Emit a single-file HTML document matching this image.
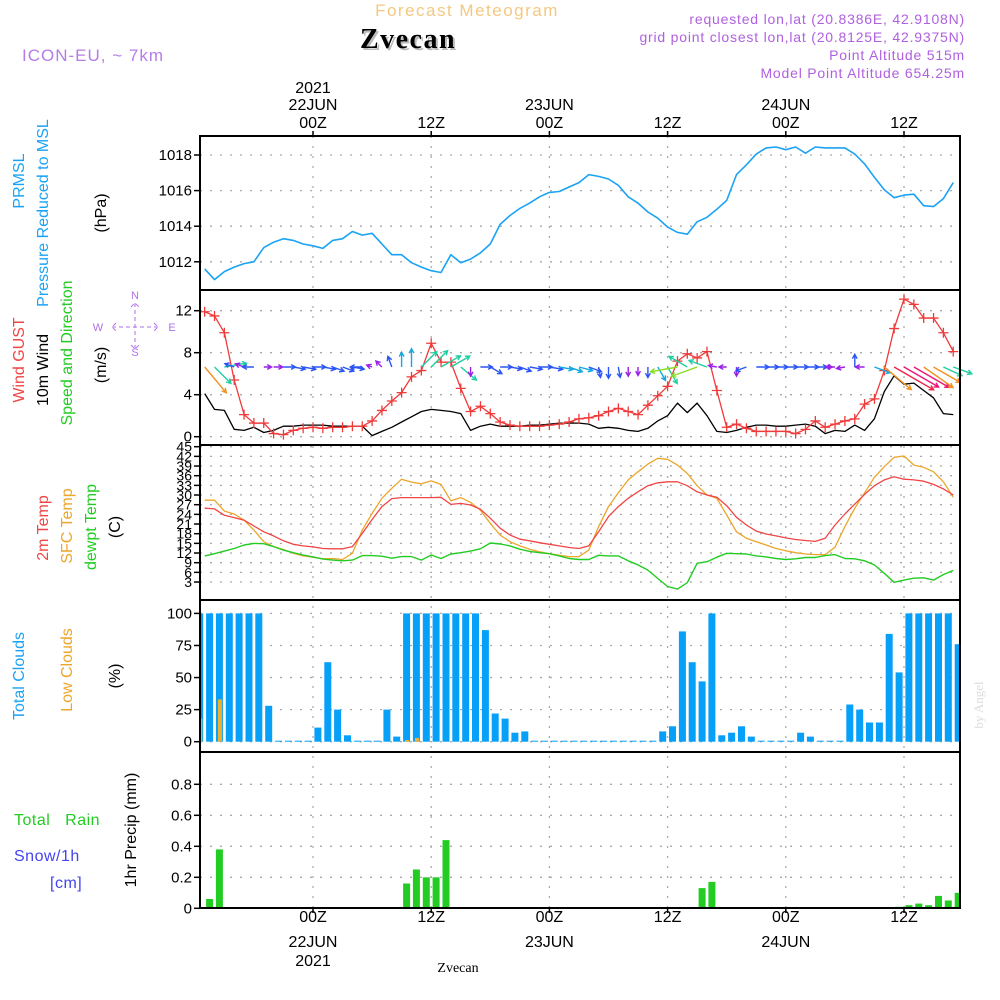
<!DOCTYPE html>
<html><head><meta charset="utf-8"><title>Zvecan meteogram</title>
<style>
html,body{margin:0;padding:0;background:#fff;}
svg{display:block;font-family:"Liberation Sans",sans-serif;}
</style></head>
<body>
<svg id="chart" width="1000" height="1000" viewBox="0 0 1000 1000" xmlns="http://www.w3.org/2000/svg">
<rect x="0" y="0" width="1000" height="1000" fill="#fff"/>
<text x="467" y="16" text-anchor="middle" font-size="17" fill="#f4c880" letter-spacing="1.5">Forecast Meteogram</text>
<text x="410" y="50" text-anchor="middle" font-size="28" font-weight="bold" font-family="Liberation Serif, serif" fill="#bbb" letter-spacing="1.5">Zvecan</text>
<text x="408" y="48" text-anchor="middle" font-size="28" font-weight="bold" font-family="Liberation Serif, serif" fill="#000" letter-spacing="1.5">Zvecan</text>
<text x="22" y="61" font-size="17" fill="#b57ce8" letter-spacing="1">ICON-EU, ~ 7km</text>
<g font-size="14" fill="#b060e0" text-anchor="end" letter-spacing="0.8">
<text x="965" y="24">requested lon,lat (20.8386E, 42.9108N)</text>
<text x="965" y="42">grid point closest lon,lat (20.8125E, 42.9375N)</text>
<text x="965" y="60">Point Altitude 515m</text>
<text x="965" y="78">Model Point Altitude 654.25m</text>
</g>
<g font-size="13" font-family="Liberation Serif, serif" fill="#ddd"><text transform="translate(983,705) rotate(-90)" text-anchor="middle">by Angel</text></g>
<g id="labels" font-size="15"></g>
<g id="grid"></g>
<g id="marks"></g>
<g id="frames"></g>
</svg>
<script>
// ---- data (hourly, h = hours from 22JUN 00Z) ----
const hoursStart = -11;
const pressure = [1011.6,1011.0,1011.45,1011.7,1011.9,1012.0,1012.8,1013.1,1013.3,1013.2,1013.0,1012.9,1012.75,1013.2,1013.3,1013.7,1013.5,1013.6,1013.0,1012.4,1012.4,1011.95,1011.7,1011.5,1011.4,1012.4,1011.95,1012.15,1012.5,1013.0,1014.1,1014.6,1015.0,1015.3,1015.65,1015.9,1015.95,1016.2,1016.45,1016.9,1016.8,1016.65,1016.3,1015.65,1015.3,1014.8,1014.45,1013.95,1013.65,1013.55,1014.25,1014.5,1014.95,1015.45,1016.9,1017.45,1018.05,1018.4,1018.45,1018.3,1018.45,1018.1,1018.45,1018.4,1018.4,1018.4,1018.05,1017.5,1016.75,1016.05,1015.6,1015.75,1015.8,1015.15,1015.1,1015.55,1016.45];
const windGust = [11.9,11.5,9.9,5.4,2.1,1.3,1.3,0.3,0.2,0.6,0.8,0.9,0.8,0.9,0.9,1.0,1.0,1.5,2.5,3.4,4.2,5.7,6.3,8.9,7.1,7.1,4.6,2.4,2.9,2.2,1.4,1.1,1.0,1.0,1.0,1.1,1.2,1.4,1.7,1.8,2.0,2.4,2.7,2.4,2.1,3.0,3.9,4.8,7.2,7.9,7.5,8.1,4.4,0.9,1.2,0.8,0.5,0.5,0.5,0.5,0.3,0.7,1.5,0.9,1.2,1.5,1.7,3.1,3.6,6.3,10.3,13.1,12.6,11.3,11.3,9.9,8.1];
const wind10m = [4.1,2.6,2.5,0.7,0.6,0.9,0.4,0.6,1.0,1.0,1.1,1.1,1.1,1.0,1.0,1.0,1.0,0.1,0.5,0.9,1.4,1.9,2.4,2.6,2.5,2.4,2.2,0.6,1.0,1.2,1.0,1.0,1.0,1.1,1.1,1.2,1.3,1.3,1.3,1.2,0.8,0.9,0.8,0.6,0.5,0.8,1.5,2.0,3.2,2.3,3.2,2.0,0.5,0.4,0.6,0.9,1.1,1.1,1.0,1.0,1.1,1.2,1.0,0.3,0.6,0.5,1.1,0.6,1.7,4.3,5.8,5.0,5.1,4.4,3.7,2.2,2.1];
const windDir = [50,45,-10,200,200,180,0,0,0,10,10,0,10,20,20,10,180,200,225,250,270,270,-45,-45,-30,-30,40,90,0,30,0,10,20,10,0,10,10,20,15,20,80,90,80,90,90,90,60,60,170,210,160,200,190,180,90,160,0,0,0,0,0,0,0,0,180,170,-90,180,20,40,30,30,30,35,30,25,20];
const temp2m = [25.9,25.7,23.7,23.0,22.2,20.4,18.6,17.3,15.8,14.7,14.2,13.9,13.4,13.3,13.3,14.0,18.1,22.4,26.4,28.9,29.2,29.2,29.2,29.2,29.3,27.1,27.4,26.9,25.6,22.8,19.7,17.6,16.3,15.8,15.2,14.7,14.2,13.7,13.4,14.2,18.6,23.3,26.4,29.0,31.0,32.9,33.8,34.1,34.1,32.9,31.0,30.0,29.3,26.7,23.1,20.7,18.8,17.9,17.3,16.7,16.2,15.9,15.6,16.6,20.7,24.1,27.2,30.2,32.9,34.7,35.7,34.9,34.7,34.3,33.3,31.9,30.0];
const tempSfc = [28.4,28.4,25.0,24.1,22.2,19.1,15.5,14.0,13.1,11.9,11.1,10.7,10.2,10.3,10.0,11.9,19.1,24.3,29.0,32.1,34.9,34.0,33.5,34.4,33.3,28.2,29.2,27.7,25.3,21.2,17.6,15.5,14.2,13.2,12.4,11.8,11.3,10.9,10.9,12.9,20.2,26.4,30.7,34.7,37.2,39.6,41.4,41.1,39.3,36.7,32.9,30.0,29.0,23.8,18.6,16.6,15.5,14.5,13.4,12.7,12.1,11.7,11.5,11.5,13.8,20.2,25.9,30.7,35.5,38.8,41.7,42.1,39.3,38.6,37.2,34.1,29.3];
const dewpt = [11.1,11.8,12.6,13.4,14.5,15.0,14.9,14.0,12.9,12.1,11.4,10.8,10.1,9.8,9.6,9.8,11.2,11.2,11.0,10.4,10.9,10.9,9.8,11.4,10.3,11.7,12.1,12.6,13.3,15.1,14.8,14.2,13.2,12.5,12.1,11.8,11.1,10.3,10.0,10.0,11.3,11.1,11.1,9.6,8.3,6.7,4.1,1.6,0.8,2.8,8.8,9.3,10.7,11.9,11.8,11.7,11.1,10.8,10.3,10.0,10.2,10.6,10.6,11.2,11.5,10.3,10.2,9.6,8.3,5.7,2.9,3.6,4.2,4.3,3.6,5.3,6.6];
// bars: hours -12 .. 65 (bar at h+0.5)
const barStart = -12;
const totalClouds = [100,100,100,100,100,100,100,28,0,0,0,0,11,62,25,5,0,0,0,25,4,100,100,100,100,100,100,100,100,87,22,18,7,8,0,0,0,0,0,0,0,0,0,0,0,0,0,8,12,86,62,47,100,5,7,12,4,0,0,0,0,7,4,0,0,0,29,25,15,15,84,54,100,100,100,100,100,76];
const lowClouds = [18,0,33,0,0,0,0,0,0,0,0,0,0,0,0,0,0,0,0,0,0,1.3,3,0,0,0,0,0,0,0,0,0,0,0,0,0,0,0,0,0,0,0,0,0,0,0,0,0,0,0,0,0,0,0,0,0,0,0,0,0,0,0,0,0,0,0,0,0,0,0,0,0,0,0,0,0,0,0];
const precip = [0,0.06,0.38,0,0,0,0,0,0,0,0,0,0,0,0,0,0,0,0,0,0,0.16,0.25,0.20,0.20,0.44,0,0,0,0,0,0,0,0,0,0,0,0,0,0,0,0,0,0,0,0,0,0,0,0,0,0.13,0.17,0,0,0,0,0,0,0,0,0,0,0,0,0,0,0,0,0,0.005,0.01,0.02,0.03,0.02,0.08,0.05,0.10];
// axis ticks
const pressTicks = [1012,1014,1016,1018];
const windTicks = [0,4,8,12];
const tempTicks = [45,42,39,36,33,30,27,24,21,18,15,12,9,6,3];
const cloudTicks = [0,25,50,75,100];
const precipTicks = [0,0.2,0.4,0.6,0.8];
const precipTickLabels = ["0","0.2","0.4","0.6","0.8"];
const timeTicks = [0,12,24,36,48,60];
const timeHourLabels = ["00Z","12Z","00Z","12Z","00Z","12Z"];
const timeDayLabels = ["22JUN","","23JUN","","24JUN",""];

// ---- scales ----
const X0=200, X1=960;
const P = {pr:[136,290], wd:[290,445], tp:[445,600], cl:[600,752], pc:[752,908]};
const xH = h => 313 + 9.85*h;
const yPr = v => 155 + (1018-v)*17.8;
const yWd = v => 436.7 - v*10.5;
const yTp = v => 446.7 + (45-v)*3.222;
const yCl = v => 741.7 - v*1.283;
const yPc = v => 908.3 - v*155;

const NS="http://www.w3.org/2000/svg";
function mk(tag, parent, attrs){const e=document.createElementNS(NS,tag);for(const k in attrs)e.setAttribute(k,attrs[k]);parent.appendChild(e);return e;}
const gGrid=document.getElementById('grid'), gMarks=document.getElementById('marks'), gFr=document.getElementById('frames'), gLab=document.getElementById('labels');

function txt(parent,x,y,s,opt){const t=mk('text',parent,Object.assign({x:x,y:y},opt||{}));t.textContent=s;return t;}

// ---- grid ----
function hGrid(yv,name){const l=mk('line',gGrid,{x1:X0,x2:X1,y1:yv,y2:yv,stroke:'#aaa','stroke-width':1.3,'stroke-dasharray':'2,8'});

}
pressTicks.forEach(v=>hGrid(yPr(v),'pressure-gridline'));
windTicks.forEach(v=>hGrid(yWd(v),'wind-gridline'));
tempTicks.forEach(v=>hGrid(yTp(v),'temp-gridline'));
cloudTicks.forEach(v=>hGrid(yCl(v),'cloud-gridline'));
precipTicks.forEach(v=>hGrid(yPc(v),'precip-gridline'));
timeTicks.forEach(h=>{const l=mk('line',gGrid,{x1:xH(h),x2:xH(h),y1:P.pr[0],y2:P.pc[1],stroke:'#aaa','stroke-width':1.3,'stroke-dasharray':'2,8'});

});

// ---- series helpers ----
function line(arr,xs,ys,color,name,w){const pts=arr.map((v,i)=>xs(i).toFixed(1)+','+ys(v).toFixed(1)).join(' ');
const p=mk('polyline',gMarks,{points:pts,fill:'none',stroke:color,'stroke-width':w||1.4,'stroke-linejoin':'round'});

return p;}
const xi = i => xH(hoursStart+i);
const xb = i => xH(barStart+i+0.5);

// pressure
line(pressure,xi,yPr,'#1aa3f5','pressure-line',1.6);
// wind 10m
line(wind10m,xi,yWd,'#000','wind-10m-line',1.3);
// gust
line(windGust,xi,yWd,'#f03a3a','wind-gust-line',1.3);
windGust.forEach((v,i)=>{const g=mk('path',gMarks,{d:`M${xi(i)-5},${yWd(v)}h10M${xi(i)},${yWd(v)-5}v10`,stroke:'#f03a3a','stroke-width':1.3});

});
// wind arrows
function arrowColor(s){if(s<0.7)return '#9a20e8';if(s<1.3)return '#2a55f5';if(s<2.0)return '#12a8e0';if(s<2.8)return '#1ecfa0';if(s<3.6)return '#88dd22';if(s<4.8)return '#f09020';if(s<5.5)return '#ee1177';return '#ee2244';}
wind10m.forEach((s,i)=>{const a=windDir[i]*Math.PI/180;const L=5+s*7;const x0=xi(i),y0=367;const x1=x0+L*Math.cos(a),y1=y0+L*Math.sin(a);
const c=arrowColor(s);
const hx1=x1-5*Math.cos(a-0.5),hy1=y1-5*Math.sin(a-0.5),hx2=x1-5*Math.cos(a+0.5),hy2=y1-5*Math.sin(a+0.5);
const ar=mk('path',gMarks,{d:`M${x0.toFixed(1)},${y0}L${x1.toFixed(1)},${y1.toFixed(1)}M${hx1.toFixed(1)},${hy1.toFixed(1)}L${x1.toFixed(1)},${y1.toFixed(1)}L${hx2.toFixed(1)},${hy2.toFixed(1)}`,stroke:c,'stroke-width':1.4,fill:'none'});

});
// temps
line(tempSfc,xi,yTp,'#eda52a','sfc-temp-line',1.3);
line(temp2m,xi,yTp,'#f04545','temp-2m-line',1.3);
line(dewpt,xi,yTp,'#22cc22','dewpoint-line',1.4);

// clip for bars
const defs=mk('defs',document.getElementById('chart'),{});
const cp=mk('clipPath',defs,{id:'plotclip'});mk('rect',cp,{x:X0+1,y:0,width:X1-X0-2,height:1000});
const gBars=mk('g',gMarks,{'clip-path':'url(#plotclip)'});
totalClouds.forEach((v,i)=>{const yy=yCl(v);const r=mk('rect',gBars,{x:(xb(i)-3.5).toFixed(1),y:(yy-(v?0:1)).toFixed(1),width:7,height:(yCl(0)-yy+(v?0:1)).toFixed(1),fill:'#06a0f8'});

});
lowClouds.forEach((v,i)=>{if(!v)return;const yy=yCl(v);const r=mk('rect',gBars,{x:(xb(i)-1.5).toFixed(1),y:yy.toFixed(1),width:4,height:(yCl(0)-yy).toFixed(1),fill:'#eeb030'});

});
precip.forEach((v,i)=>{if(!v)return;const yy=yPc(v);const r=mk('rect',gBars,{x:(xb(i)-3.5).toFixed(1),y:yy.toFixed(1),width:7,height:Math.max(1,yPc(0)-yy).toFixed(1),fill:'#22cc22'});

});

// ---- frames ----
[P.pr,P.wd,P.tp,P.cl,P.pc].forEach(p=>{const r=mk('rect',gFr,{x:X0,y:p[0],width:X1-X0,height:p[1]-p[0],fill:'none',stroke:'#000','stroke-width':2});

});

// ---- y tick labels ----
function yTicks(vals,ys,labels,name,fs){vals.forEach((v,i)=>{const y=ys(v);mk('line',gFr,{x1:X0-6,x2:X0,y1:y,y2:y,stroke:'#000','stroke-width':1.5});
const t=txt(gLab,X0-8,y+5,labels?labels[i]:String(v),{'text-anchor':'end','font-size':fs||15});

});}
yTicks(pressTicks,yPr,null,'pressure-tick-label');
yTicks(windTicks,yWd,null,'wind-tick-label');
yTicks(tempTicks,yTp,null,'temp-tick-label',14);
yTicks(cloudTicks,yCl,null,'cloud-tick-label');
yTicks(precipTicks,yPc,precipTickLabels,'precip-tick-label');

// ---- time labels ----
timeTicks.forEach((h,i)=>{const x=xH(h);
mk('line',gFr,{x1:x,x2:x,y1:P.pr[0]-5,y2:P.pr[0],stroke:'#000','stroke-width':1.5});
mk('line',gFr,{x1:x,x2:x,y1:P.pc[1],y2:P.pc[1]+5,stroke:'#000','stroke-width':1.5});
const a=txt(gLab,x,128,timeHourLabels[i],{'text-anchor':'middle','font-size':16});


const b=txt(gLab,x,922,timeHourLabels[i],{'text-anchor':'middle','font-size':16});


if(timeDayLabels[i]){const c=txt(gLab,x,110,timeDayLabels[i],{'text-anchor':'middle','font-size':16});


const d=txt(gLab,x,947,timeDayLabels[i],{'text-anchor':'middle','font-size':16});

}
});
const y1=txt(gLab,xH(0),93,'2021',{'text-anchor':'middle','font-size':16});


const y2=txt(gLab,xH(0),966,'2021',{'text-anchor':'middle','font-size':16});


const bz=txt(gLab,458,972,'Zvecan',{'text-anchor':'middle','font-size':14,'font-family':'Liberation Serif, serif'});



// ---- rotated panel labels ----
function vlab(x,y,s,color,name){const t=txt(gLab,0,0,s,{transform:`translate(${x},${y}) rotate(-90)`,'text-anchor':'middle',fill:color,'font-size':16});

}
vlab(24,181,'PRMSL','#1aa3f5','pressure-label');
vlab(48,213,'Pressure Reduced to MSL','#1aa3f5','pressure-desc-label');
vlab(106,213,'(hPa)','#000','pressure-unit-label');
vlab(24,360,'Wind GUST','#f04545','gust-label');
vlab(48,370,'10m Wind','#000','wind-label');
vlab(72,353,'Speed and Direction','#22cc22','wind-desc-label');
vlab(106,365,'(m/s)','#000','wind-unit-label');
vlab(48,528,'2m Temp','#f04545','temp-2m-label');
vlab(72,526,'SFC Temp','#eda52a','sfc-temp-label');
vlab(96,527,'dewpt Temp','#22cc22','dewpt-label');
vlab(120,527,'(C)','#000','temp-unit-label');
vlab(24,676,'Total Clouds','#1aa3f5','total-clouds-label');
vlab(72,670,'Low Clouds','#eda52a','low-clouds-label');
vlab(120,676,'(%)','#000','cloud-unit-label');
vlab(136,830,'1hr Precip (mm)','#000','precip-unit-label');
[['Total\u00a0\u00a0\u00a0Rain',14,825,'#22cc22','rain-label'],['Snow/1h',14,861,'#4444ee','snow-label'],['[cm]',50,888,'#4444ee','snow-unit-label']].forEach(a=>{
const t=txt(gLab,a[1],a[2],a[0],{fill:a[3],'font-size':16,'letter-spacing':'0.5'});

});
// compass
const cg=mk('g',gLab,{fill:'#b070e8','font-size':11,'text-anchor':'middle'});


txt(cg,135,299,'N');txt(cg,135,356,'S');txt(cg,98,331,'W');txt(cg,172,331,'E');
mk('path',cg,{d:'M135,303v46M112,327h46M116,323l-4,4l4,4M154,323l4,4l-4,4M131,307l4,-4l4,4M131,345l4,4l4,-4',stroke:'#b070e8','stroke-width':1,fill:'none','stroke-dasharray':'4,3'});
</script>
</body></html>
